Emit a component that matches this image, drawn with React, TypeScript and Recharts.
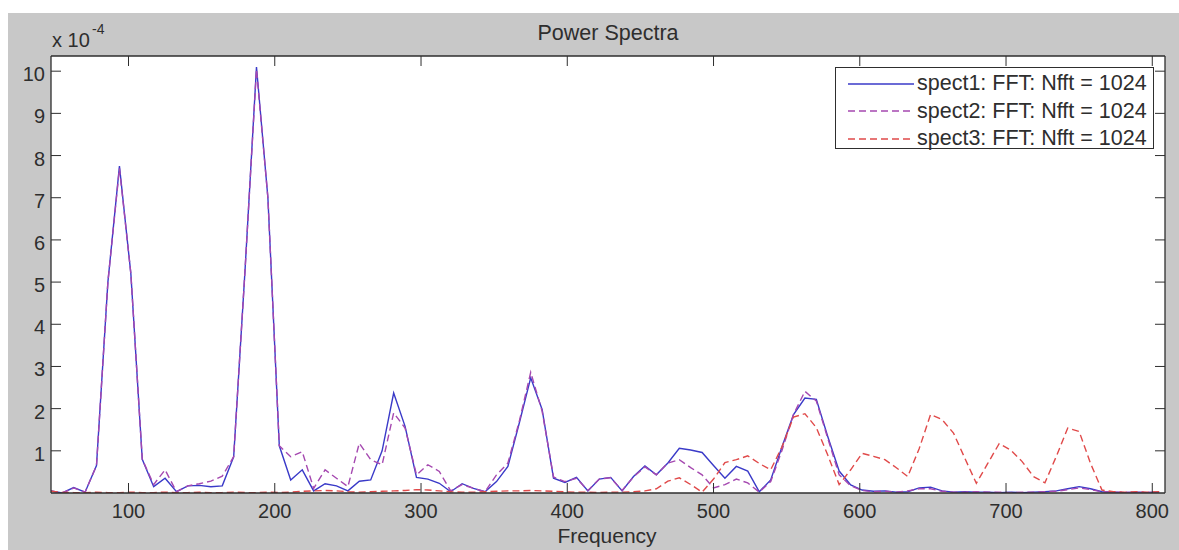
import React from "react";
import { LineChart, Line, XAxis, YAxis, Legend } from "recharts";

// FFT bin centres (Hz), Nfft = 1024
const frequency = [
  46.9, 54.7, 62.5, 70.3, 78.1, 85.9, 93.8, 101.6, 109.4, 117.2,
  125, 132.8, 140.6, 148.4, 156.3, 164.1, 171.9, 179.7, 187.5, 195.3,
  203.1, 210.9, 218.8, 226.6, 234.4, 242.2, 250, 257.8, 265.6, 273.4,
  281.3, 289.1, 296.9, 304.7, 312.5, 320.3, 328.1, 335.9, 343.8, 351.6,
  359.4, 367.2, 375, 382.8, 390.6, 398.4, 406.3, 414.1, 421.9, 429.7,
  437.5, 445.3, 453.1, 460.9, 468.8, 476.6, 484.4, 492.2, 500, 507.8,
  515.6, 523.4, 531.3, 539.1, 546.9, 554.7, 562.5, 570.3, 578.1, 585.9,
  593.8, 601.6, 609.4, 617.2, 625, 632.8, 640.6, 648.4, 656.3, 664.1,
  671.9, 679.7, 687.5, 695.3, 703.1, 710.9, 718.8, 726.6, 734.4, 742.2,
  750, 757.8, 765.6, 773.4, 781.3, 789.1, 796.9, 804.7,
];

// power values, in units of 1e-4
const spect1 = [
  0.05, 0.0, 0.13, 0.02, 0.65, 5.0, 7.75, 5.2, 0.8, 0.15,
  0.35, 0.03, 0.17, 0.18, 0.15, 0.17, 0.86, 5.3, 10.1, 7.0,
  1.12, 0.31, 0.55, 0.05, 0.22, 0.17, 0.05, 0.28, 0.31, 1.0,
  2.37, 1.58, 0.37, 0.33, 0.23, 0.03, 0.22, 0.11, 0.03, 0.27,
  0.63, 1.66, 2.73, 1.98, 0.35, 0.25, 0.37, 0.05, 0.33, 0.37,
  0.05, 0.39, 0.64, 0.43, 0.71, 1.06, 1.02, 0.96, 0.65, 0.35,
  0.63, 0.52, 0.03, 0.31, 1.1, 1.86, 2.25, 2.22, 1.34, 0.52,
  0.19, 0.07, 0.04, 0.05, 0.02, 0.03, 0.12, 0.14, 0.05, 0.02,
  0.03, 0.02, 0.02, 0.01, 0.02, 0.01, 0.02, 0.03, 0.05, 0.1,
  0.15, 0.1, 0.03, 0.02, 0.01, 0.02, 0.01, 0.02,
];

const spect2 = [
  0.05, 0.0, 0.12, 0.02, 0.65, 5.0, 7.7, 5.2, 0.8, 0.2,
  0.55, 0.03, 0.17, 0.22, 0.28, 0.4, 0.86, 5.3, 10.05, 7.0,
  1.12, 0.86, 0.98, 0.11, 0.55, 0.35, 0.15, 1.18, 0.79, 0.67,
  1.9, 1.54, 0.43, 0.67, 0.51, 0.05, 0.2, 0.11, 0.03, 0.43,
  0.71, 1.7, 2.86, 1.94, 0.38, 0.27, 0.35, 0.06, 0.33, 0.36,
  0.06, 0.38, 0.62, 0.43, 0.71, 0.79, 0.6, 0.43, 0.12, 0.2,
  0.33, 0.24, 0.02, 0.27, 1.02, 1.86, 2.41, 2.18, 1.3, 0.43,
  0.17, 0.06, 0.03, 0.04, 0.02, 0.05, 0.1, 0.1, 0.04, 0.02,
  0.02, 0.03, 0.02, 0.02, 0.01, 0.02, 0.02, 0.03, 0.04, 0.08,
  0.12, 0.08, 0.03, 0.02, 0.02, 0.01, 0.02, 0.02,
];

const spect3 = [
  0.04, 0.02, 0.01, 0.01, 0.02, 0.01, 0.01, 0.02, 0.01, 0.01,
  0.02, 0.01, 0.01, 0.02, 0.01, 0.01, 0.02, 0.01, 0.01, 0.02,
  0.01, 0.02, 0.04, 0.05, 0.06, 0.05, 0.03, 0.02, 0.03, 0.04,
  0.05, 0.06, 0.08, 0.07, 0.05, 0.03, 0.02, 0.02, 0.03, 0.04,
  0.05, 0.05, 0.06, 0.05, 0.04, 0.03, 0.02, 0.02, 0.01, 0.02,
  0.02, 0.03, 0.05, 0.1, 0.28, 0.36, 0.2, 0.02, 0.33, 0.72,
  0.79, 0.88, 0.7, 0.55, 1.1, 1.8, 1.88, 1.55, 0.9, 0.2,
  0.55, 0.94, 0.87, 0.79, 0.6, 0.39, 1.05, 1.86, 1.74, 1.42,
  0.82, 0.23, 0.7, 1.17, 1.02, 0.75, 0.39, 0.24, 0.87, 1.54,
  1.46, 0.7, 0.07, 0.03, 0.02, 0.03, 0.02, 0.03,
];

const xTicks = [100, 200, 300, 400, 500, 600, 700, 800];
const yTicks = [1, 2, 3, 4, 5, 6, 7, 8, 9, 10];

const series = [
  { key: "spect1", name: "spect1: FFT: Nfft = 1024", color: "#3a3ac8", dash: undefined },
  { key: "spect2", name: "spect2: FFT: Nfft = 1024", color: "#a548b0", dash: "7 4" },
  { key: "spect3", name: "spect3: FFT: Nfft = 1024", color: "#e04a4a", dash: "7 4" },
];

const data = frequency.map((f, i) => ({
  f,
  spect1: spect1[i],
  spect2: spect2[i],
  spect3: spect3[i],
}));

const FONT = "'Liberation Sans', Arial, sans-serif";
const INK = "#2e2e2e";
const TICK_LEN = 10;

//========== tick renderers (MATLAB style, ticks point inward) ===========

const BottomTick = (props: any) => {
  const { x, y, payload } = props;
  return (
    <g>
      <line x1={x} y1={y} x2={x} y2={y - TICK_LEN} stroke={INK} />
      <text x={x} y={y + 25} textAnchor="middle" fontSize={20} fill={INK} fontFamily={FONT}>
        {payload.value}
      </text>
    </g>
  );
};

const TopTick = (props: any) => {
  const { x, y } = props;
  return <line x1={x} y1={y} x2={x} y2={y + TICK_LEN} stroke={INK} />;
};

const LeftTick = (props: any) => {
  const { x, y, payload } = props;
  return (
    <g>
      <line x1={x} y1={y} x2={x + TICK_LEN} y2={y} stroke={INK} />
      <text x={x - 6} y={y + 10} textAnchor="end" fontSize={20} fill={INK} fontFamily={FONT}>
        {payload.value}
      </text>
    </g>
  );
};

const RightTick = (props: any) => {
  const { x, y } = props;
  return <line x1={x} y1={y} x2={x - TICK_LEN} y2={y} stroke={INK} />;
};

const renderLegend = () => (
  <div
    style={{
      width: 319,
      height: 82,
      boxSizing: "border-box",
      border: `1px solid ${INK}`,
      background: "#fff",
      paddingTop: 2,
      fontFamily: FONT,
      fontSize: 21.5,
      color: INK,
    }}
  >
    {series.map((s) => (
      <div key={s.key} style={{ display: "flex", alignItems: "center", height: 27.5 }}>
        <svg width={78} height={4} style={{ marginLeft: 12 }}>
          <line x1={0} y1={2} x2={66} y2={2} stroke={s.color} strokeWidth={1.4} strokeDasharray={s.dash} />
        </svg>
        <span style={{ marginLeft: -9, whiteSpace: "nowrap" }}>{s.name}</span>
      </div>
    ))}
  </div>
);

export default function App() {
  return (
    <div
      style={{
        position: "absolute",
        left: 8,
        top: 13,
        width: 1171,
        height: 537,
        background: "#c8c8c8",
      }}
    >
      <LineChart width={1171} height={537} data={data} margin={{ top: 0, right: 0, bottom: 0, left: 0 }}>
        <rect x={43} y={43} width={1114} height={437} fill="#ffffff" />

        {/* ====== Axes: box with inward ticks on all four sides ====== */}
        <XAxis
          xAxisId="b"
          dataKey="f"
          type="number"
          domain={[47, 808.7]}
          allowDataOverflow
          ticks={xTicks}
          interval={0}
          height={57}
          tickSize={0}
          tickMargin={0}
          tickLine={false}
          tick={<BottomTick />}
          axisLine={{ stroke: INK, strokeWidth: 1.3 }}
        />
        <XAxis
          xAxisId="t"
          orientation="top"
          dataKey="f"
          type="number"
          domain={[47, 808.7]}
          allowDataOverflow
          ticks={xTicks}
          interval={0}
          height={43}
          tickSize={0}
          tickMargin={0}
          tickLine={false}
          tick={<TopTick />}
          axisLine={{ stroke: INK, strokeWidth: 1.3 }}
        />
        <YAxis
          yAxisId="l"
          type="number"
          domain={[0, 10.36]}
          allowDataOverflow
          ticks={yTicks}
          interval={0}
          width={43}
          tickSize={0}
          tickMargin={0}
          tickLine={false}
          tick={<LeftTick />}
          axisLine={{ stroke: INK, strokeWidth: 1.3 }}
        />
        <YAxis
          yAxisId="r"
          orientation="right"
          type="number"
          domain={[0, 10.36]}
          allowDataOverflow
          ticks={yTicks}
          interval={0}
          width={14}
          tickSize={0}
          tickMargin={0}
          tickLine={false}
          tick={<RightTick />}
          axisLine={{ stroke: INK, strokeWidth: 1.3 }}
        />

        {/* ====== Spectra ====== */}
        {series.map((s) => (
          <Line
            key={s.key}
            xAxisId="b"
            yAxisId="l"
            type="linear"
            dataKey={s.key}
            name={s.name}
            stroke={s.color}
            strokeWidth={1.4}
            strokeDasharray={s.dash}
            dot={false}
            activeDot={false}
            isAnimationActive={false}
          />
        ))}

        <Legend
          layout="vertical"
          align="center"
          verticalAlign="middle"
          content={renderLegend}
          wrapperStyle={{ left: 827, top: 54, width: 319, height: 82 }}
        />

        {/* ====== Titles ====== */}
        <text x={600} y={27} textAnchor="middle" fontSize={21.5} fill={INK} fontFamily={FONT}>
          Power Spectra
        </text>
        <text x={44} y={34} fontSize={20} fill={INK} fontFamily={FONT}>
          x 10
        </text>
        <text x={84} y={21} fontSize={14} fill={INK} fontFamily={FONT}>
          -4
        </text>
        <text x={599} y={530} textAnchor="middle" fontSize={21} fill={INK} fontFamily={FONT}>
          Frequency
        </text>
      </LineChart>
    </div>
  );
}
